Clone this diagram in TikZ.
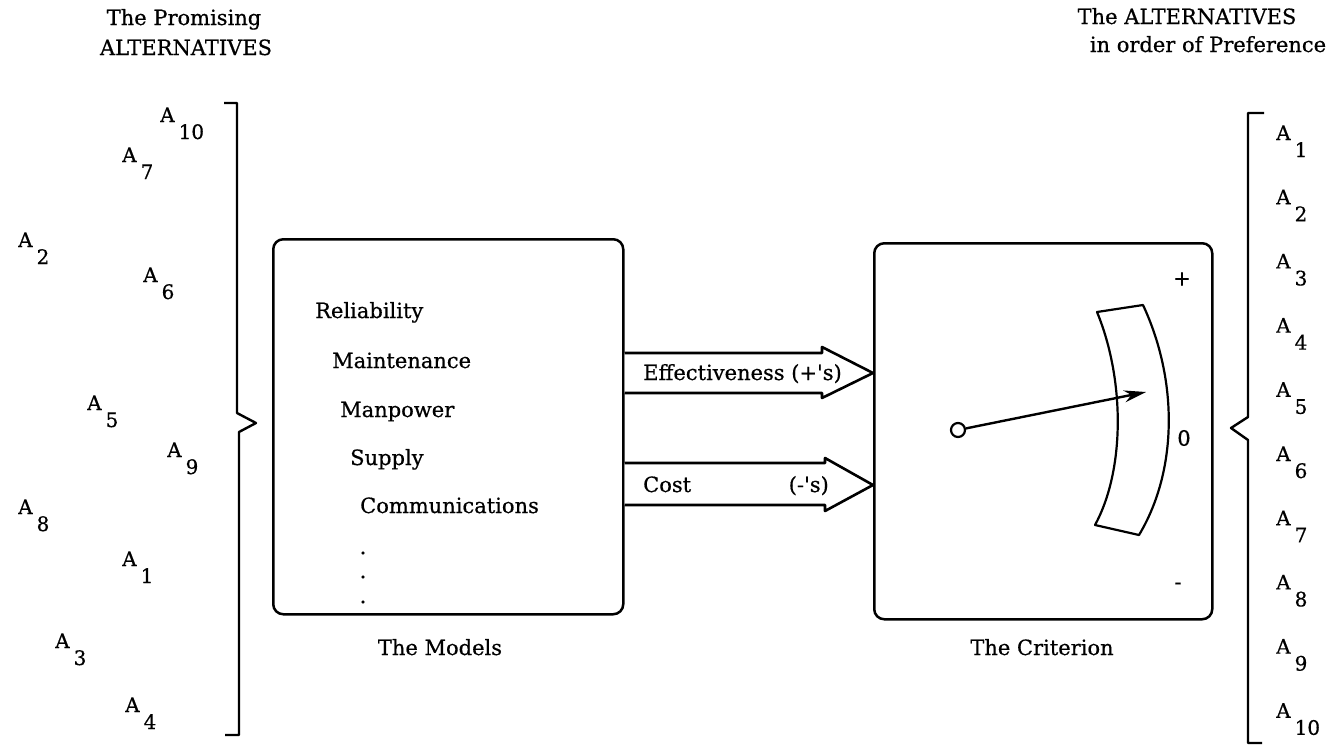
\documentclass[tikz,border=0pt]{standalone}
\usepackage{fontspec}
\setmainfont{DejaVu Serif}[FakeBold=0.6]
\usetikzlibrary{arrows.meta}

% one unit = one pixel, y grows downwards
\newcommand{\altsub}[1]{A\kern4pt\raisebox{-17pt}{#1}}

\begin{document}
\begin{tikzpicture}[x=1pt,y=-1pt,line join=round,
  txt/.style={font=\fontsize{21}{25}\selectfont,inner sep=0pt},
  ttl/.style={txt,anchor=base},
  alt/.style={font=\fontsize{20}{24}\selectfont,inner sep=0pt,anchor=base west},
  item/.style={txt,anchor=base west},
  panel/.style={draw,line width=2.5pt,rounded corners=10pt},
  brace/.style={draw,line width=2.4pt},
  fat/.style={draw,line width=2.6pt,fill=white},
  band/.style={draw,line width=2.2pt}]
\useasboundingbox (0,0) rectangle (1333,747);

% headings
\node[ttl] (hl1) at (184,25) {The Promising};
\node[ttl] (hl2) at (186,55) {ALTERNATIVES};
\node[ttl] (hr1) at (1187,24) {The ALTERNATIVES};
\node[ttl] (hr2) at (1208,52) {in order of Preference};

% the unordered alternatives
\node[alt] (l10) at (160,122) {\altsub{10}};
\node[alt] (l7)  at (122,162) {\altsub{7}};
\node[alt] (l2)  at (18,247)  {\altsub{2}};
\node[alt] (l6)  at (143,282) {\altsub{6}};
\node[alt] (l5)  at (87,410)  {\altsub{5}};
\node[alt] (l9)  at (167,457) {\altsub{9}};
\node[alt] (l8)  at (18,514)  {\altsub{8}};
\node[alt] (l1)  at (122,566) {\altsub{1}};
\node[alt] (l3)  at (55,648)  {\altsub{3}};
\node[alt] (l4)  at (125,712) {\altsub{4}};

% left brace
\draw[brace] (224,103) -- (237,103) -- (237,413) -- (256,423) -- (239,432)
  -- (239,735) -- (225,735);

% the models
\node[panel,minimum width=350pt,minimum height=375pt,anchor=north west]
  (models) at (272,238) {};
\node[item] (m1) at (315,318) {Reliability};
\node[item] (m2) at (332,368) {Maintenance};
\node[item] (m3) at (340,417) {Manpower};
\node[item] (m4) at (350,465) {Supply};
\node[item] (m5) at (360,513) {Communications};
\node[txt] (d1) at (363,553) {.};
\node[txt] (d2) at (363,577) {.};
\node[txt] (d3) at (363,602) {.};
\node[txt,anchor=base] (mcap) at (440,655) {The Models};

% the criterion
\node[panel,minimum width=338pt,minimum height=376pt,anchor=north west]
  (crit) at (873,242) {};
\node[txt,anchor=base] (ccap) at (1042,655) {The Criterion};
\node[txt] (plus)  at (1182,279) {+};
\node[txt] (zero)  at (1184,438) {0};
\node[txt] (minus) at (1178,586) {-};

% broad arrows from the models into the criterion
\draw[fat] (models.east |- 0,353) -- (822,353) -- (822,347) -- (crit.west |- 0,373)
  -- (822,398) -- (822,393) -- (models.east |- 0,393);
\node[item] (eff) at (643,380) {Effectiveness (+\textquotesingle s)};
\draw[fat] (models.east |- 0,463) -- (825,463) -- (825,458) -- (crit.west |- 0,485)
  -- (825,511) -- (825,505) -- (models.east |- 0,505);
\node[item] (cost) at (643,492) {Cost};
\node[txt,anchor=base east] (neg) at (829,492) {(-\textquotesingle s)};

% dial scale and pointer
\draw[band] (1097,312) .. controls (1125,380) and (1125,470) .. (1095,525)
  -- (1139,535) .. controls (1178,470) and (1178,380) .. (1143,305) -- cycle;
\node[circle,draw,line width=2.2pt,minimum size=14pt,inner sep=0pt] (pivot) at (958,430) {};
\coordinate (tip) at (1146,392);
\draw[line width=2.4pt,-{Stealth[length=22pt,width=12pt]}] (pivot) -- (tip);

% ranked alternatives
\foreach \k in {1,...,10}{
  \node[alt] (r\k) at (1276,{140+64.2*(\k-1)}) {\altsub{\k}};
}

% right brace
\draw[brace] (1264,113) -- (1248,113) -- (1248,417) -- (1231,428) -- (1248,440)
  -- (1248,743) -- (1262,743);
\end{tikzpicture}
\end{document}
